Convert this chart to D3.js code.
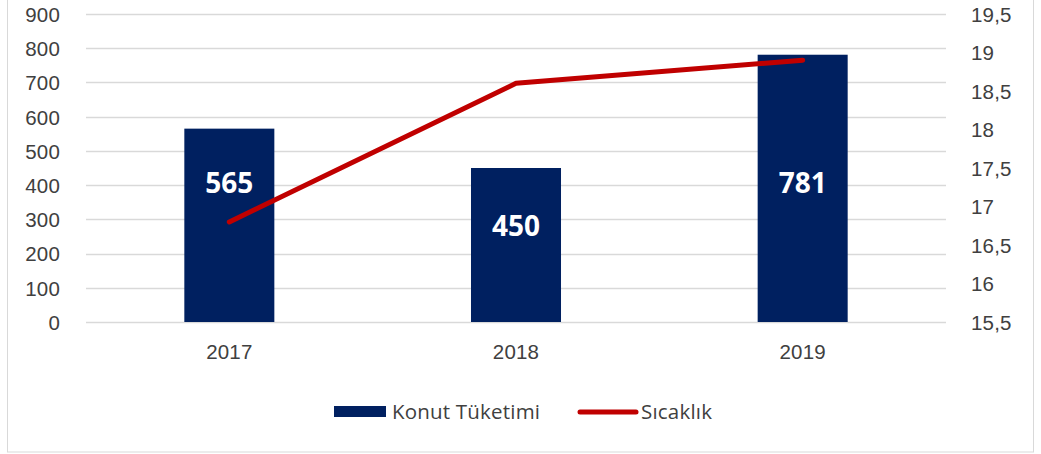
<!DOCTYPE html>
<html><head><meta charset="utf-8">
<script src="https://cdn.jsdelivr.net/npm/d3@7"></script>
<style>
html,body{margin:0;padding:0;background:#fff;}
svg{display:block;font-family:"Open Sans","Liberation Sans","DejaVu Sans",sans-serif;}
</style></head>
<body>
<svg id="chart" width="1041" height="454"></svg>
<script>
const years = ["2017", "2018", "2019"];
const consumption = [565, 450, 781];
const labelAt = [406, 280, 406];
const temperature = [16.8, 18.6, 18.9];
const leftTicks = [0, 100, 200, 300, 400, 500, 600, 700, 800, 900];
const rightTicks = [15.5, 16, 16.5, 17, 17.5, 18, 18.5, 19, 19.5];
const seriesNames = ["Konut Tüketimi", "Sıcaklık"];

const svg = d3.select("#chart");
const textColor = "#404040";
const barColor = "#002060";
const lineColor = "#C00000";
const gridColor = "#d9d9d9";
const fs = "20.5px";
const ls = "0.2px";

// frame
svg.append("rect").attr("x", 7.5).attr("y", -10).attr("width", 1026).attr("height", 462)
  .attr("fill", "#fff").attr("stroke", "#d9d9d9").attr("stroke-width", 1);

const plot = {left: 86, right: 946, top: 14, bottom: 322};
const x = d3.scaleBand().domain(years).range([plot.left, plot.right]).paddingInner(0.686).paddingOuter(0.343);
const y = d3.scaleLinear().domain([0, 900]).range([plot.bottom, plot.top]);
const y2 = d3.scaleLinear().domain([15.5, 19.5]).range([plot.bottom, plot.top]);

// gridlines
svg.append("g").selectAll("line").data(leftTicks).join("line")
  .attr("x1", plot.left).attr("x2", plot.right)
  .attr("y1", d => Math.round(y(d)) + 0.5).attr("y2", d => Math.round(y(d)) + 0.5)
  .attr("stroke", gridColor).attr("stroke-width", 1.5);

// left axis
const fmtL = d3.format("d");
const la = svg.append("g").attr("transform", `translate(${plot.left - 26},0)`)
  .call(d3.axisLeft(y).tickValues(leftTicks).tickFormat(fmtL).tickSize(0).tickPadding(0));
la.select(".domain").remove();
la.selectAll("text").attr("fill", textColor).style("font-size", fs).style("letter-spacing", ls).attr("dy", "0.36em");

// right axis
const fmtR = d => String(d).replace(".", ",");
const ra = svg.append("g").attr("transform", `translate(${plot.right + 25},0)`)
  .call(d3.axisRight(y2).tickValues(rightTicks).tickFormat(fmtR).tickSize(0).tickPadding(0));
ra.select(".domain").remove();
ra.selectAll("text").attr("fill", textColor).style("font-size", fs).style("letter-spacing", ls).attr("dy", "0.36em");

// bottom axis
const ba = svg.append("g").attr("transform", `translate(0,${plot.bottom + 22})`)
  .call(d3.axisBottom(x).tickSize(0).tickPadding(0));
ba.select(".domain").remove();
ba.selectAll("text").attr("fill", textColor).style("font-size", fs).style("letter-spacing", ls).attr("dy", "0.71em");

// bars
svg.append("g").selectAll("rect").data(years).join("rect")
  .attr("x", d => x(d)).attr("width", x.bandwidth())
  .attr("y", (d, i) => y(consumption[i])).attr("height", (d, i) => y(0) - y(consumption[i]))
  .attr("fill", barColor);

// line
const line = d3.line().x((d, i) => x(years[i]) + x.bandwidth() / 2).y(d => y2(d));
svg.append("path").datum(temperature).attr("d", line)
  .attr("fill", "none").attr("stroke", lineColor).attr("stroke-width", 5)
  .attr("stroke-linecap", "round").attr("stroke-linejoin", "round");

// value labels
svg.append("g").selectAll("text").data(years).join("text")
  .attr("x", d => x(d) + x.bandwidth() / 2)
  .attr("y", (d, i) => y(labelAt[i]))
  .attr("dy", "0.36em").attr("text-anchor", "middle")
  .attr("fill", "#fff").style("font-size", "28px").style("font-weight", "bold")
  .text((d, i) => consumption[i]);

// legend
const lg = svg.append("g");
lg.append("rect").attr("x", 334).attr("y", 406).attr("width", 52).attr("height", 11).attr("fill", barColor);
lg.append("text").attr("x", 392).attr("y", 412).attr("dy", "0.36em").attr("fill", textColor)
  .style("font-size", fs).style("letter-spacing", ls).text(seriesNames[0]);
lg.append("line").attr("x1", 580).attr("x2", 636).attr("y1", 412).attr("y2", 412)
  .attr("stroke", lineColor).attr("stroke-width", 5).attr("stroke-linecap", "round");
lg.append("text").attr("x", 641).attr("y", 412).attr("dy", "0.36em").attr("fill", textColor)
  .style("font-size", fs).style("letter-spacing", ls).text(seriesNames[1]);
</script>
</body></html>
